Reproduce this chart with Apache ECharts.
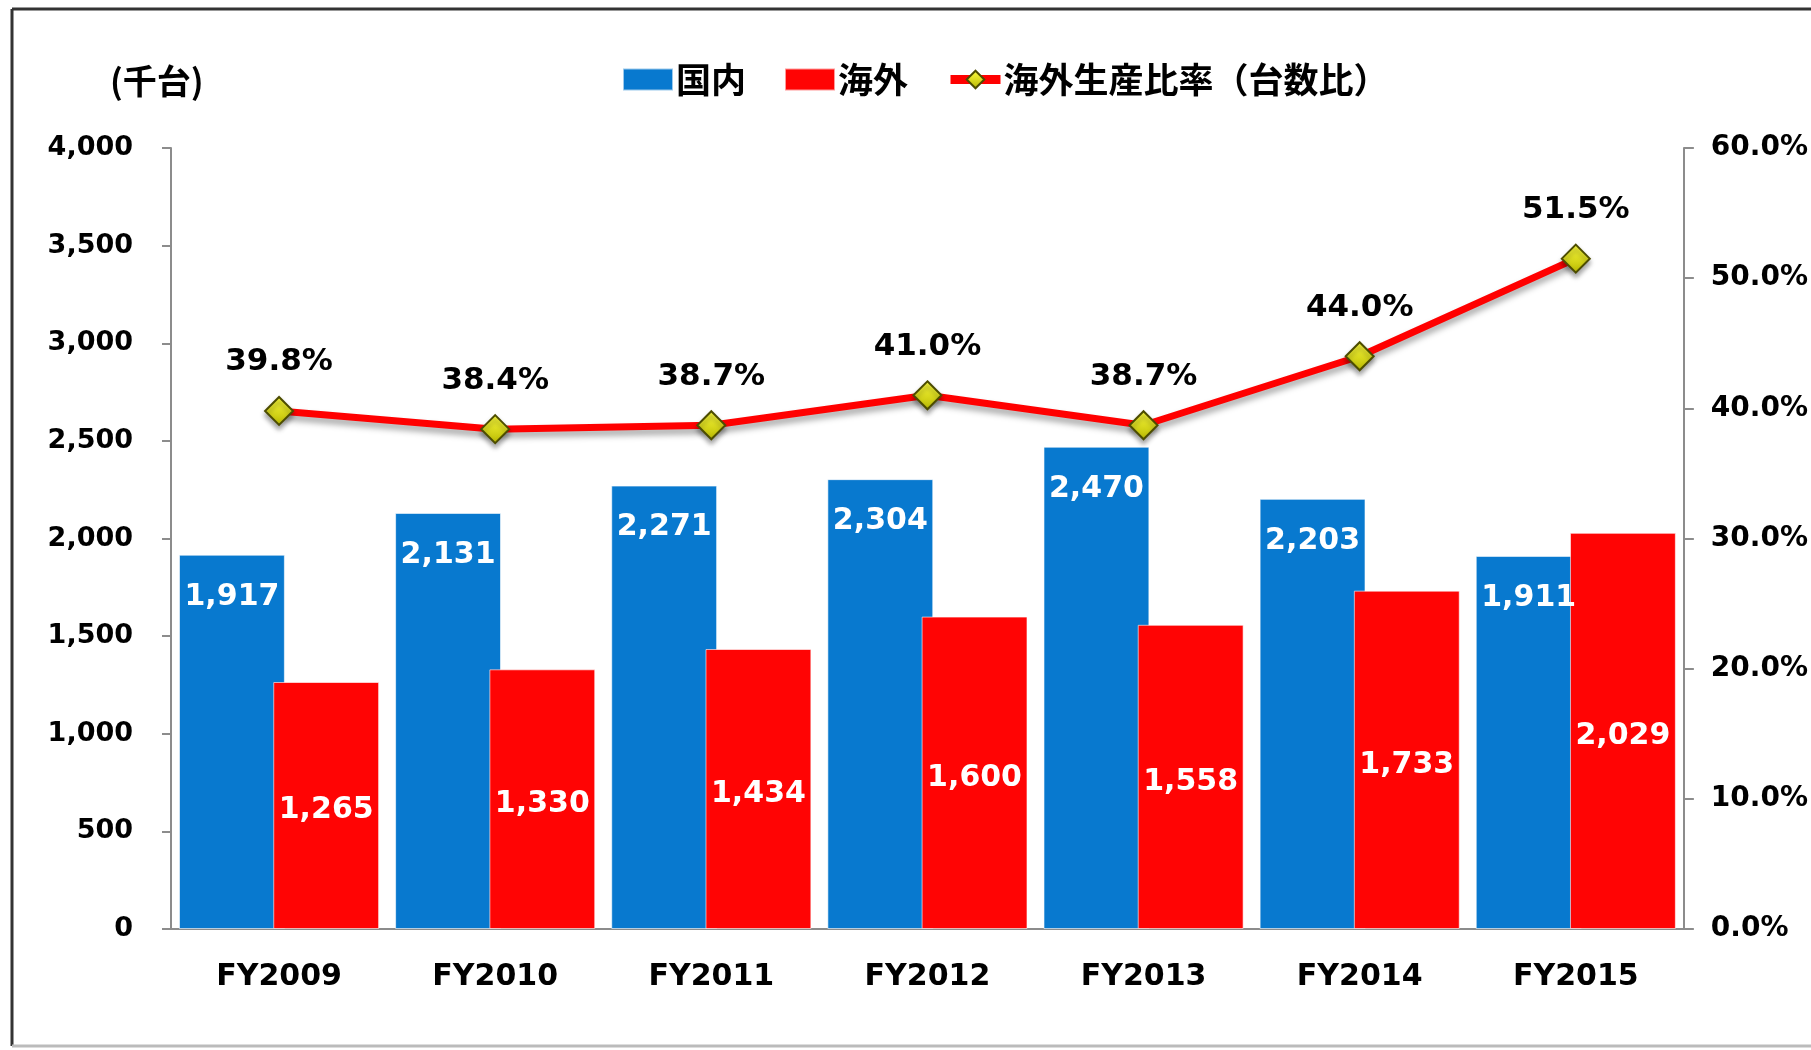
<!DOCTYPE html>
<html>
<head>
<meta charset="utf-8">
<script src="https://cdn.jsdelivr.net/npm/echarts@6/dist/echarts.min.js"></script>
<style>
  html, body { margin: 0; padding: 0; background: #fff; }
  #main { width: 1811px; height: 1050px; }
</style>
</head>
<body>
<div id="main"></div>
<script>
const categories = ['FY2009', 'FY2010', 'FY2011', 'FY2012', 'FY2013', 'FY2014', 'FY2015']
const domestic = [1917, 2131, 2271, 2304, 2470, 2203, 1911]
const overseas = [1265, 1330, 1434, 1600, 1558, 1733, 2029]
const overseasRatio = [39.8, 38.4, 38.7, 41.0, 38.7, 44.0, 51.5]

const latin = "'DejaVu Sans', 'Noto Sans CJK JP', sans-serif"
const cjk = "'Noto Sans CJK JP', 'DejaVu Sans', sans-serif"
const fmt = v => v.toLocaleString('en-US')

let chart = echarts.init(document.getElementById('main'))

let option = {
    animation: false,
    backgroundColor: '#fff',
    graphic: [
        // frame of the picture
        { type: 'line', shape: { x1: 12, y1: 9, x2: 1811, y2: 9 }, style: { stroke: '#333', lineWidth: 3 } },
        { type: 'line', shape: { x1: 12, y1: 9, x2: 12, y2: 1046 }, style: { stroke: '#333', lineWidth: 3 } },
        { type: 'line', shape: { x1: 12, y1: 1046, x2: 1811, y2: 1046 }, style: { stroke: '#bbb', lineWidth: 3 } },
        {
            type: 'text', left: 110, top: 64,
            style: { text: '(千台)', fontFamily: cjk, fontWeight: 'bold', fontSize: 34, fill: '#000' }
        }
    ],
    legend: {
        left: 617,
        top: 57,
        itemWidth: 50,
        itemHeight: 22,
        itemGap: 38,
        textStyle: { fontFamily: cjk, fontWeight: 'bold', fontSize: 35, color: '#000', padding: [0, 0, 0, -2] },
        data: [
            { name: '国内', icon: 'rect' },
            { name: '海外', icon: 'rect' },
            { name: '海外生産比率（台数比）', lineStyle: { width: 9 } }
        ]
    },
    grid: { left: 171, right: 125, top: 148, bottom: 121 },
    xAxis: {
        type: 'category',
        data: categories,
        axisLine: { lineStyle: { color: '#8c8c8c', width: 2 } },
        axisTick: { length: 11, lineStyle: { color: '#8c8c8c', width: 2 } },
        axisLabel: { margin: 33, fontFamily: latin, fontWeight: 'bold', fontSize: 30, color: '#000' }
    },
    yAxis: [
        {
            type: 'value', min: 0, max: 4000, interval: 500,
            splitLine: { show: false },
            axisLine: { show: true, lineStyle: { color: '#8c8c8c', width: 2 } },
            axisTick: { show: true, length: 9, lineStyle: { color: '#8c8c8c', width: 2 } },
            axisLabel: { margin: 38, fontFamily: latin, fontWeight: 'bold', fontSize: 27, color: '#000', formatter: fmt }
        },
        {
            type: 'value', min: 0, max: 60, interval: 10,
            splitLine: { show: false },
            axisLine: { show: true, lineStyle: { color: '#8c8c8c', width: 2 } },
            axisTick: { show: true, length: 10, lineStyle: { color: '#8c8c8c', width: 2 } },
            axisLabel: { margin: 27, fontFamily: latin, fontWeight: 'bold', fontSize: 28, color: '#000', formatter: v => v.toFixed(1) + '%' }
        }
    ],
    series: [
        {
            name: '国内',
            type: 'bar',
            data: domestic,
            barCategoryGap: '7.4%',
            barGap: '-11%',
            itemStyle: { color: '#0879cf', borderColor: 'rgba(255,255,255,0.6)', borderWidth: 1 },
            label: {
                show: true, position: 'insideTop', distance: 27,
                fontFamily: latin, fontWeight: 'bold', fontSize: 30, color: '#fff',
                formatter: p => fmt(p.value)
            },
            z: 2
        },
        {
            name: '海外',
            type: 'bar',
            data: overseas,
            itemStyle: { color: '#ff0404', borderColor: 'rgba(255,255,255,0.6)', borderWidth: 1 },
            label: {
                show: true, position: 'inside', offset: [0, 5],
                fontFamily: latin, fontWeight: 'bold', fontSize: 30, color: '#fff',
                formatter: p => fmt(p.value)
            },
            z: 2
        },
        {
            name: '海外生産比率（台数比）',
            type: 'line',
            yAxisIndex: 1,
            data: overseasRatio,
            symbol: 'diamond',
            symbolSize: 28,
            lineStyle: {
                color: '#ff0000', width: 7,
                shadowColor: 'rgba(0,0,0,0.35)', shadowBlur: 6, shadowOffsetY: 5
            },
            itemStyle: {
                color: new echarts.graphic.LinearGradient(0, 0, 0, 1, [
                    { offset: 0, color: '#ffff40' },
                    { offset: 1, color: '#b8b800' }
                ]),
                borderColor: '#4d4d00',
                borderWidth: 2,
                shadowColor: 'rgba(0,0,0,0.35)', shadowBlur: 5, shadowOffsetY: 4
            },
            label: {
                show: true, position: 'top', distance: 18,
                fontFamily: latin, fontWeight: 'bold', fontSize: 31, color: '#000',
                formatter: p => p.value.toFixed(1) + '%'
            },
            z: 5
        }
    ]
}

chart.setOption(option)
</script>
</body>
</html>
